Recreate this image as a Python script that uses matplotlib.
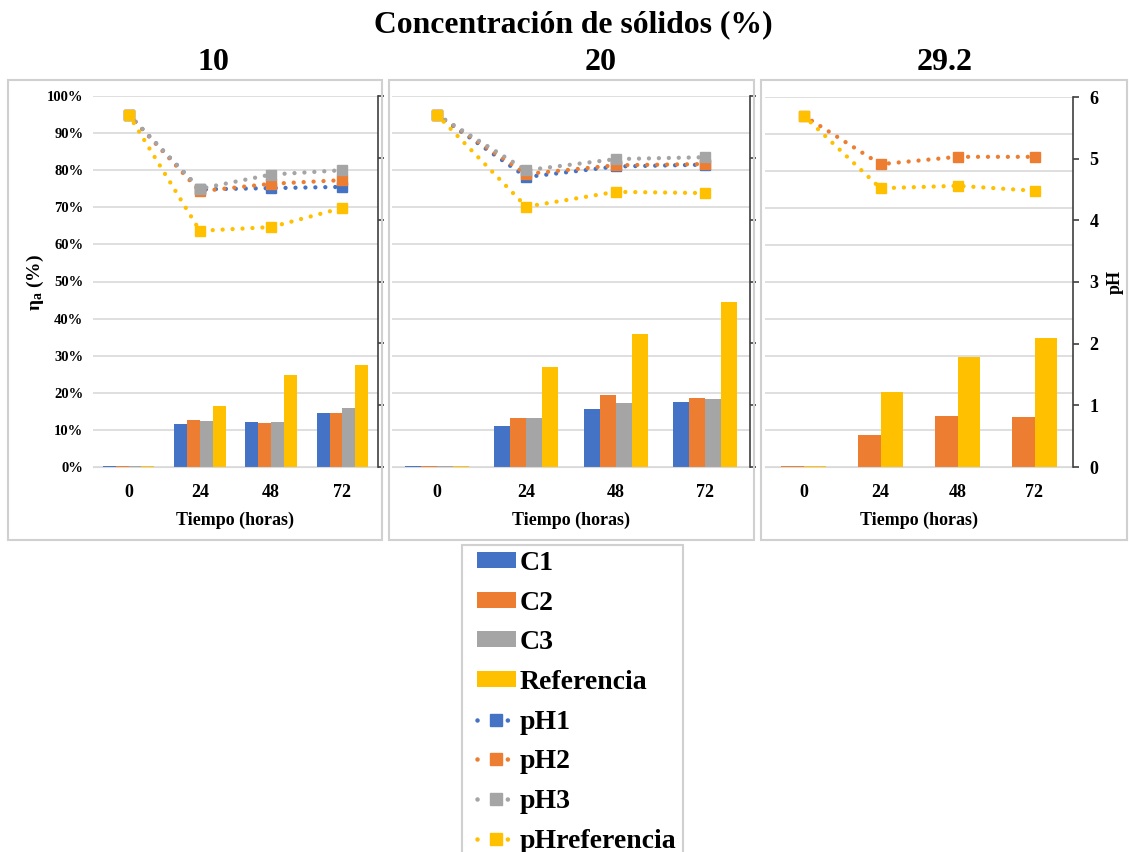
import matplotlib
matplotlib.use("Agg")
import matplotlib.pyplot as plt
import numpy as np
from matplotlib.patches import Rectangle, Patch
from matplotlib.lines import Line2D

plt.rcParams['font.family'] = ['Liberation Serif', 'DejaVu Serif']
plt.rcParams['font.weight'] = 'bold'
plt.rcParams['axes.labelweight'] = 'bold'
plt.rcParams['mathtext.fontset'] = 'custom'
plt.rcParams['mathtext.rm'] = 'Liberation Serif:bold'
plt.rcParams['mathtext.bf'] = 'Liberation Serif:bold'
plt.rcParams['mathtext.it'] = 'Liberation Serif:bold'

horas = ['0', '24', '48', '72']

# Concentracion 10 %
c1_10 = [0.3, 11.7, 12.0, 14.6]
c2_10 = [0.3, 12.6, 11.8, 14.6]
c3_10 = [0.3, 12.4, 12.0, 15.8]
ref_10 = [0.3, 16.4, 24.8, 27.5]
ph1_10 = [5.70, 4.49, 4.51, 4.53]
ph2_10 = [5.70, 4.46, 4.58, 4.64]
ph3_10 = [5.70, 4.50, 4.73, 4.80]
phref_10 = [5.70, 3.82, 3.88, 4.19]

# Concentracion 20 %
c1_20 = [0.4, 11.1, 15.6, 17.6]
c2_20 = [0.4, 13.1, 19.4, 18.5]
c3_20 = [0.4, 13.1, 17.2, 18.3]
ref_20 = [0.4, 26.9, 35.8, 44.6]
ph1_20 = [5.70, 4.69, 4.86, 4.89]
ph2_20 = [5.70, 4.74, 4.88, 4.90]
ph3_20 = [5.70, 4.80, 4.98, 5.01]
phref_20 = [5.70, 4.21, 4.45, 4.43]

# Concentracion 29.2 %
c2_29 = [0.3, 8.7, 13.7, 13.5]
ref_29 = [0.3, 20.2, 29.7, 34.9]
ph2_29 = [5.70, 4.91, 5.03, 5.03]
phref_29 = [5.70, 4.52, 4.56, 4.48]

AZUL, NARANJA, GRIS, AMARILLO = '#4472C4', '#ED7D31', '#A5A5A5', '#FFC000'
DOTS = (0, (0.01, 2.3))

W, H = 1129, 852
fig = plt.figure(figsize=(W / 100, H / 100), dpi=100)


def caja(x0, y0, x1, y1):
    return [x0 / W, 1 - y1 / H, (x1 - x0) / W, (y1 - y0) / H]


# marcos grises de cada panel y de la leyenda
for x0, y0, x1, y1 in [(8, 80, 382, 540), (389, 80, 754, 540),
                       (761, 80, 1127, 540), (462, 545, 683, 860)]:
    fig.patches.append(Rectangle((x0 / W, 1 - y1 / H), (x1 - x0) / W, (y1 - y0) / H,
                                 transform=fig.transFigure, fill=False,
                                 edgecolor='#D0D0D0', linewidth=1.5))

fig.text(573 / W, 1 - 25 / H, 'Concentración de sólidos (%)', ha='center', va='center', fontsize=22.8)
for x, t in [(213, '10'), (601, '20'), (945, '29.2')]:
    fig.text(x / W, 1 - 62 / H, t, ha='center', va='center', fontsize=23)


def panel(rect, barras, lineas, ancho, etiquetas_izq, etiquetas_der):
    ax = fig.add_axes(caja(*rect))
    x = np.arange(len(horas))
    n = len(barras)
    for i, (vals, col) in enumerate(barras):
        ax.bar(x + (i - (n - 1) / 2) * ancho, vals, width=ancho, color=col, zorder=2)
    ax.set_ylim(0, 100)
    ax.set_xlim(-0.5, 3.5)
    ax.set_yticks(np.arange(0, 101, 10))
    ax.grid(axis='y', color='#D9D9D9', linewidth=1.2, zorder=0)
    ax.set_axisbelow(True)
    for s in ['left', 'top', 'right']:
        ax.spines[s].set_visible(False)
    ax.spines['bottom'].set_color('#D9D9D9')
    ax.set_xticks(x)
    ax.set_xticklabels(horas, fontsize=13)
    ax.tick_params(axis='x', length=0, pad=12)
    if etiquetas_izq:
        ax.set_yticklabels([f'{v}%' for v in range(0, 101, 10)], fontsize=10.5)
        ax.tick_params(axis='y', length=0, pad=7)
    else:
        ax.tick_params(axis='y', length=0, labelleft=False)
    ax.set_xlabel('Tiempo (horas)', fontsize=13, labelpad=8)

    ax2 = ax.twinx()
    for vals, col in lineas:
        ax2.plot(x, vals, color=col, linestyle=DOTS, linewidth=3.1,
                 dash_capstyle='round', marker='s', markersize=6.5)
    ax2.set_ylim(0, 6)
    ax2.set_yticks(range(7))
    for s in ['left', 'top', 'bottom']:
        ax2.spines[s].set_visible(False)
    ax2.spines['right'].set_color('#404040')
    ax2.spines['right'].set_linewidth(1.2)
    ax2.tick_params(axis='y', length=4, width=1.2, color='#404040', labelsize=13, pad=8,
                    labelright=etiquetas_der)
    if etiquetas_der:
        ax2.set_ylabel('pH', fontsize=13, rotation=90, labelpad=6)
    return ax


ax1 = panel((93, 96, 378, 467),
            [(c1_10, AZUL), (c2_10, NARANJA), (c3_10, GRIS), (ref_10, AMARILLO)],
            [(ph1_10, AZUL), (ph2_10, NARANJA), (ph3_10, GRIS), (phref_10, AMARILLO)],
            0.18, True, False)
fig.text(35 / W, 1 - 282 / H, r'$\mathbf{η}_\mathbf{a}$ (%)', rotation=90,
         ha='center', va='center', fontsize=14)

panel((392, 96, 750, 467),
      [(c1_20, AZUL), (c2_20, NARANJA), (c3_20, GRIS), (ref_20, AMARILLO)],
      [(ph1_20, AZUL), (ph2_20, NARANJA), (ph3_20, GRIS), (phref_20, AMARILLO)],
      0.18, False, False)

panel((765, 97, 1073, 467),
      [(c2_29, NARANJA), (ref_29, AMARILLO)],
      [(ph2_29, NARANJA), (phref_29, AMARILLO)],
      0.29, False, True)

handles = [Patch(facecolor=AZUL, label='C1'), Patch(facecolor=NARANJA, label='C2'),
           Patch(facecolor=GRIS, label='C3'), Patch(facecolor=AMARILLO, label='Referencia')]
for col, lab in [(AZUL, 'pH1'), (NARANJA, 'pH2'), (GRIS, 'pH3'), (AMARILLO, 'pHreferencia')]:
    handles.append(Line2D([0], [0], color=col, linestyle=(0, (0.01, 3.3)), linewidth=3.3,
                          dash_capstyle='round', marker='s', markersize=8, label=lab))

fig.legend(handles=handles, loc='upper left', bbox_to_anchor=(474 / W, 1 - 548 / H),
           frameon=False, fontsize=20, handlelength=1.4, handleheight=0.5,
           handletextpad=0.15, labelspacing=0.53, borderaxespad=0, borderpad=0.1)

fig.savefig('out.png', dpi=100)
